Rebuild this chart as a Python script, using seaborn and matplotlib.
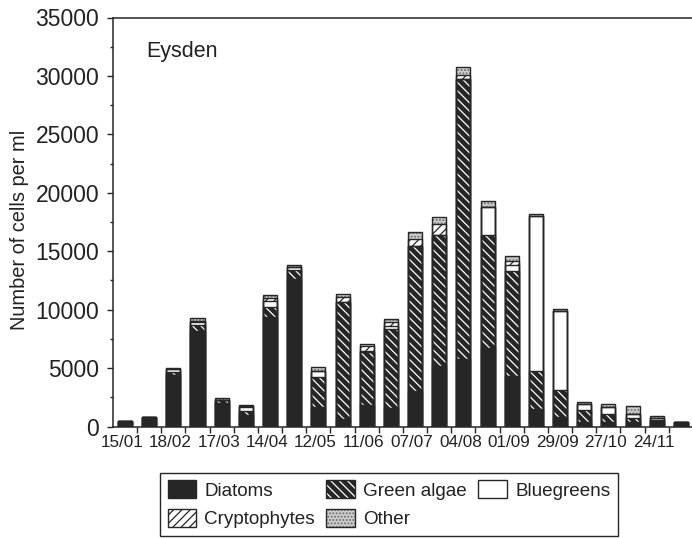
import numpy as np
import matplotlib
matplotlib.use("Agg")
import matplotlib.pyplot as plt
from matplotlib.patches import Patch
from matplotlib.ticker import MultipleLocator, FixedLocator
import seaborn as sns

# Phytoplankton counts at Eysden (cells per ml), one value per sampling date
sample = list(range(24))
date_labels = ["15/01", "18/02", "17/03", "14/04", "12/05", "11/06",
               "07/07", "04/08", "01/09", "29/09", "27/10", "24/11"]
diatoms = [450, 850, 4400, 8200, 2000, 950, 9400, 12650, 1650, 650, 1850, 1600,
           3000, 5150, 5800, 6700, 4300, 1500, 850, 400, 400, 380, 430, 350]
green_algae = [0, 0, 300, 500, 300, 370, 850, 700, 2570, 10000, 4500, 6760,
               12450, 11200, 23970, 9700, 9040, 3280, 2290, 1050, 700, 350, 150, 0]
bluegreens = [0, 0, 200, 250, 0, 350, 450, 300, 500, 0, 150, 200,
              0, 0, 0, 2370, 510, 13200, 6740, 490, 550, 370, 170, 0]
cryptophytes = [0, 0, 0, 100, 0, 80, 300, 0, 0, 450, 400, 350,
                570, 950, 290, 0, 290, 0, 0, 0, 0, 0, 0, 0]
other = [0, 0, 100, 200, 100, 100, 250, 200, 360, 200, 180, 250,
         620, 630, 720, 500, 430, 170, 140, 145, 300, 630, 180, 0]

INK = "#262626"
TEXT = "#222222"
GREY = "#cdcdcd"
BAR_W = 0.58
GREEN_HATCH = "\\\\\\\\"
CRYPT_HATCH = "////"

sns.set_style("ticks")
plt.rcParams["font.family"] = ["Liberation Sans", "DejaVu Sans"]
plt.rcParams["hatch.linewidth"] = 0.9

fig = plt.figure(figsize=(6.92, 5.38), dpi=100)
ax = fig.add_axes([112.9 / 692, 1 - 426.5 / 538, 580.1 / 692, 409.0 / 538])

d = np.array(diatoms, float)
g = np.array(green_algae, float)
b = np.array(bluegreens, float)
c = np.array(cryptophytes, float)
o = np.array(other, float)

cum_d = d
cum_g = cum_d + g
cum_b = cum_g + b
cum_c = cum_b + c
cum_o = cum_c + o


def layer(heights, face, edge, lw, hatch=None):
    n0 = len(ax.patches)
    sns.barplot(x=sample, y=heights, ax=ax, width=BAR_W, saturation=1,
                errorbar=None, color="black")
    for p in ax.patches[n0:]:
        p.set_facecolor(face)
        p.set_edgecolor(edge)
        p.set_linewidth(lw)
        p.set_hatch(hatch)


# fills, drawn from the top of the stack downwards
layer(cum_o, GREY, "#6a6a6a", 0, ".....")
layer(cum_c, "white", INK, 0, CRYPT_HATCH)
layer(cum_b, "white", "white", 0)
layer(cum_g, INK, INK, 0)
layer(cum_g, "none", "white", 0, GREEN_HATCH)
layer(cum_d, INK, INK, 0)
# outlines of every segment boundary
for top in (cum_o, cum_c, cum_b, cum_g, cum_d):
    layer(top, "none", INK, 1.0)

ax.set_xlim(-0.5, 23.5)
ax.set_ylim(0, 35000)
ax.yaxis.set_major_locator(MultipleLocator(5000))
ax.yaxis.set_minor_locator(MultipleLocator(2500))
ax.set_xticks(np.arange(0, 24, 2) - 0.12)
ax.set_xticklabels(date_labels)
ax.xaxis.set_minor_locator(FixedLocator(np.arange(0.5, 23, 1.0)))
ax.tick_params(axis="x", which="major", length=0, pad=6, labelsize=12.3,
               labelcolor=TEXT)
ax.tick_params(axis="x", which="minor", length=4.5, width=1, color=INK,
               direction="out")
ax.tick_params(axis="y", which="major", length=4, width=1, color=INK,
               pad=6, labelsize=16.5, labelcolor=TEXT, direction="out")
ax.tick_params(axis="y", which="minor", length=2.5, width=1, color=INK,
               direction="out")
ax.set_xlabel("")
ax.set_ylabel("")

for side in ("left", "bottom", "top"):
    ax.spines[side].set_visible(True)
    ax.spines[side].set_color(INK)
    ax.spines[side].set_linewidth(1.1)
ax.spines["right"].set_visible(False)

fig.text(20 / 692, 1 - 230 / 538, "Number of cells per ml", rotation=90,
         ha="center", va="center", fontsize=14.4, color=TEXT)
ax.text(0.057, 0.916, "Eysden", transform=ax.transAxes, ha="left",
        va="center", fontsize=15.5, color=TEXT)

# legend handles, filled patch with its hatch and an outline on top
outline = Patch(facecolor="none", edgecolor=INK, linewidth=1.0)
h_diat = (Patch(facecolor=INK, edgecolor=INK, linewidth=0), outline)
h_green = (Patch(facecolor=INK, edgecolor=INK, linewidth=0),
           Patch(facecolor="none", edgecolor="white", linewidth=0, hatch=GREEN_HATCH),
           outline)
h_blue = (Patch(facecolor="white", edgecolor="white", linewidth=0), outline)
h_crypt = (Patch(facecolor="white", edgecolor=INK, linewidth=0, hatch=CRYPT_HATCH),
           outline)
h_other = (Patch(facecolor=GREY, edgecolor="#6a6a6a", linewidth=0, hatch="....."),
           outline)

leg = fig.legend([h_diat, h_crypt, h_green, h_other, h_blue],
                 ["Diatoms", "Cryptophytes", "Green algae", "Other", "Bluegreens"],
                 ncol=3, loc="upper left",
                 bbox_to_anchor=(160 / 692, 1 - 472.5 / 538),
                 fontsize=13.6, handlelength=1.5, handleheight=1.1,
                 handletextpad=0.45, columnspacing=0.6, labelspacing=0.5,
                 borderpad=0.4, borderaxespad=0, frameon=True,
                 fancybox=False, framealpha=1)
leg.get_frame().set_edgecolor(INK)
leg.get_frame().set_linewidth(1.0)
for t in leg.get_texts():
    t.set_color(TEXT)

fig.savefig("out.png", dpi=100)
